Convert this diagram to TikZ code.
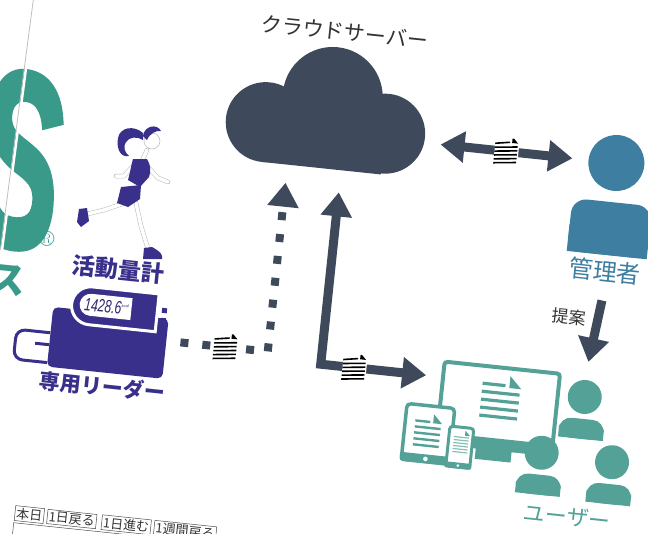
\documentclass[tikz,border=0pt]{standalone}
\usepackage{fontspec}
\usepackage{graphicx}
\newfontfamily\jp{Noto Sans CJK JP}
\newfontfamily\logofont{Liberation Sans}[BoldItalicFeatures={FakeBold=3}]
\usetikzlibrary{arrows.meta,positioning,shapes.misc}

\definecolor{slate}{HTML}{3E4A5B}
\definecolor{readerpurple}{HTML}{39308B}
\definecolor{adminblue}{HTML}{3D7EA1}
\definecolor{userteal}{HTML}{54A297}
\definecolor{logoteal}{HTML}{3A9A8A}

% one user: head and shoulders
\tikzset{
  pics/person/.style={code={
    \node[circle, fill=#1, minimum size=34pt, inner sep=0pt] (-head) at (0,0) {};
    \fill[#1, rounded corners=12pt] (-22.5,22) rectangle (22.5,42);
    \fill[#1] (-22.5,32) rectangle (22.5,42);
  }},
}

\begin{document}
\begin{tikzpicture}[
  x=1pt, y=-1pt,
  font=\jp,
  >={Triangle[length=24pt,width=30pt]},
  bigarrow/.style={draw=slate, line width=9pt},
  dotarrow/.style={draw=slate, line width=8pt, dash pattern=on 8pt off 14pt},
  docicon/.style={fill=white, solid, inner sep=0pt, minimum width=24pt, minimum height=27pt,
    path picture={
      \draw[-, black, line width=1.6pt] ([xshift=1pt,yshift=-6.5pt]path picture bounding box.north west)
        -- ([xshift=-9pt,yshift=-6.5pt]path picture bounding box.north east);
      \foreach \k in {1,...,5}
        \draw[-, black, line width=1.6pt] ([xshift=1pt,yshift=-6.5pt-3.9pt*\k]path picture bounding box.north west)
          -- ([xshift=-1pt,yshift=-6.5pt-3.9pt*\k]path picture bounding box.north east);
      \fill[black] ([xshift=-7pt,yshift=-1pt]path picture bounding box.north east) -- ++(0,6) -- ++(6,0) -- cycle;
    }},
  lbl/.style={inner sep=0pt},
  screenbox/.style={draw=userteal, fill=white, rounded corners=3pt, inner sep=0pt},
  btn/.style={draw=black!70, line width=.5pt, inner sep=1.5pt, text=black!80,
              font=\jp\fontsize{13}{13}\selectfont},
  limb/.style={draw=black!28, double=white, double distance=3.5pt, line width=.5pt,
               line cap=round, line join=round},
]
\useasboundingbox (0,0) rectangle (648,533);
\clip (0,0) rectangle (648,533);
\fill[white] (0,0) rectangle (648,533);

% logo at the left margin, cut by the page
\node[text=logoteal, font=\logofont\bfseries\itshape\fontsize{250}{250}\selectfont,
      xscale=.5, rotate=-6, inner sep=0pt] (logo) at (19,160) {S};
\node[text=logoteal, font=\fontsize{22}{22}\selectfont, rotate=-6, inner sep=0pt] (reg) at (47,239) {\textregistered};
\node[text=logoteal, font=\jp\bfseries\fontsize{38}{38}\selectfont, rotate=-6, inner sep=0pt] (kana) at (7,280) {ス};
\draw[white, line width=2.5pt] (35,0) -- (2,250);
\draw[black!25, line width=.8pt] (33.3,0) -- (.3,250);

% runner
\draw[limb] (122,204) -- (104,210) -- (87,214);
\draw[limb] (136,203) -- (141,226) -- (148,249);
\draw[limb] (147,166) -- (158,178) -- (168,182);
\draw[limb] (133,166) -- (124,176) -- (116,176);
\draw[limb] (147,150) -- (143,159);
\filldraw[draw=black!28, fill=white, line width=.5pt] (152,141) circle (8);
\fill[readerpurple] (143,136) .. controls (144,126) and (157,123) .. (161,131)
  .. controls (157,130) and (150,133) .. (147,140) -- cycle;
\fill[readerpurple] (143,133) .. controls (134,125) and (120,127) .. (118,138)
  .. controls (116,149) and (121,158) .. (129,156)
  .. controls (124,152) and (123,146) .. (126,142)
  .. controls (129,137) and (137,136) .. (143,140) -- cycle;
\fill[readerpurple] (133,159) -- (147,159) .. controls (151,165) and (151,172) .. (149,177)
  -- (140,187) -- (128,180) .. controls (130,173) and (131,166) .. (133,159) -- cycle;
\fill[readerpurple] (121,187) -- (141,185) -- (140,199) -- (128,207) -- (117,203) -- cycle;
\fill[readerpurple] (79,209) -- (87,208) -- (89,221) -- (81,227) -- (77,222) -- cycle;
\fill[readerpurple] (144,248) -- (152,247) .. controls (157,250) and (161,252) .. (162,256)
  -- (162,259) -- (143,259) -- cycle;

\begin{scope}[rotate around={-6:(324,266)}, transform shape]

% cloud server
\node[lbl, font=\jp\fontsize{21}{21}\selectfont, text=black!80] (title) at (320,31) {クラウドサーバー};
\node[minimum width=200pt, minimum height=122pt, inner sep=0pt] (cloud) at (311,108) {};
\fill[slate] ([shift={(-60,21)}]cloud.center) circle (40pt);
\fill[slate] ([shift={(60,20)}]cloud.center) circle (40pt);
\fill[slate] ([shift={(4,-11)}]cloud.center) circle (50pt);
\fill[slate] ([shift={(-60,7)}]cloud.center) rectangle ([shift={(60,61)}]cloud.center);

% administrator
\node[circle, fill=adminblue, minimum size=56pt, inner sep=0pt] (admhead) at (604,133) {};
\node[fill=adminblue, rounded corners=15pt, minimum width=80pt, minimum height=53pt,
      inner sep=0pt, below=11pt of admhead] (admbody) {};
\fill[adminblue] (admbody.west) rectangle (admbody.south east);
\node[lbl, font=\jp\fontsize{24}{24}\selectfont, text=adminblue, below=5pt of admbody] (admlabel) {管理者};

% activity meter on its reader
\node[lbl, font=\jp\bfseries\fontsize{23}{23}\selectfont, text=readerpurple] (meterlabel) at (120,291) {活動量計};
\node[fill=readerpurple, rounded corners=5pt, minimum width=116pt, minimum height=60pt, inner sep=0pt] (reader) at (117,365) {};
\draw[readerpurple, line width=3pt, rounded corners=9pt] ([yshift=4pt]reader.west) -- ++(-34,0) -- ++(0,30) -- ++(34,0);
\draw[readerpurple, line width=3pt] ([yshift=-8pt]reader.west) -- ++(-14,0);
\node[rounded rectangle, rounded rectangle east arc=none, fill=readerpurple, draw=white, line width=3pt,
      minimum width=86pt, minimum height=38pt, inner sep=0pt] (meter) at (120,330) {};
\node[rounded rectangle, rounded rectangle east arc=none, fill=white, minimum width=52pt, minimum height=22pt,
      inner sep=0pt, font=\logofont\itshape\fontsize{18}{18}\selectfont, text=readerpurple!80!black] (lcd) at (112,329)
      {\scalebox{.68}[1]{1428.6}\raisebox{7pt}{\fontsize{4}{4}\selectfont kcal}};
\node[fill=readerpurple, minimum size=5pt, inner sep=0pt] (pinA) at (170,327) {};
\node[fill=readerpurple, minimum size=5pt, inner sep=0pt] (pinB) at (170,337) {};
\node[lbl, font=\jp\bfseries\fontsize{21}{21}\selectfont, text=readerpurple] (readerlabel) at (116,409) {専用リーダー};

% upload from the reader
\draw[dotarrow, ->] ([xshift=14pt,yshift=8pt]reader.east) -| node[pos=.26, docicon] (docupload) {}
  ([xshift=-34pt,yshift=-18pt]cloud.south);

% devices
\node[screenbox, line width=4pt, minimum width=116pt, minimum height=81pt] (monitor) at (512,389) {};
\fill[userteal, rounded corners=2pt] ([yshift=12pt]monitor.south west) rectangle (monitor.south east);
\fill[userteal] (494,430) rectangle (530,442);
\draw[userteal, line width=3.2pt] (494,366) -- (517,366);
\foreach \k in {1,...,4}
  \draw[userteal, line width=3.2pt] (494,366+8*\k) -- (532,366+8*\k);
\fill[userteal] (521,356) -- (521,368) -- (533,368) -- cycle;

\node[screenbox, line width=3.5pt, rounded corners=4pt, minimum width=48pt, minimum height=56pt] (tablet) at (445,422) {};
\fill[userteal, rounded corners=3pt] ([yshift=9pt]tablet.south west) rectangle (tablet.south east);
\fill[white] ([yshift=4.5pt]tablet.south) circle (2.3pt);
\draw[userteal, line width=2.4pt] (431,410) -- (446,410);
\foreach \k in {1,...,4}
  \draw[userteal, line width=2.4pt] (431,410+6*\k) -- (457,410+6*\k);
\fill[userteal] (449,402) -- (449,411) -- (458,411) -- cycle;

\node[screenbox, line width=3pt, minimum width=24pt, minimum height=40pt] (phone) at (478,432) {};
\fill[userteal, rounded corners=2pt] ([yshift=6pt]phone.south west) rectangle (phone.south east);
\fill[white] ([yshift=3pt]phone.south) circle (1.5pt);
\foreach \k in {0,...,5}
  \draw[userteal!70, line width=1.2pt] (471,422+3*\k) -- (486,422+3*\k);
\fill[userteal] (482,415) -- (482,420) -- (487,420) -- cycle;

% delivery to the devices
\draw[bigarrow, <->] ([xshift=20pt,yshift=-22pt]cloud.south) |- node[pos=.66, docicon] (docdeliver) {}
  ([xshift=-15pt,yshift=25pt]monitor.west);

% sync with the administrator
\draw[bigarrow, <->] ([xshift=16pt,yshift=-25pt]cloud.east) -- node[docicon] (docsync) {}
  ([xshift=-16pt]admhead.west);

% users
\pic (u1) at (597,369) {person=userteal};
\pic (u2) at (560,429) {person=userteal};
\pic (u3) at (631,431) {person=userteal};
\node[lbl, font=\jp\fontsize{22}{22}\selectfont, text=userteal] (userlabel) at (592,490) {ユーザー};

\draw[bigarrow, ->] ([yshift=-18pt]admlabel.south) -- node[pos=.32, left=7pt, lbl,
  font=\jp\fontsize{17}{17}\selectfont, text=black!80] (teian) {提案} ([yshift=18pt]u1-head.north);

% web calendar buttons at the page foot
\node[btn] (today) at (57,544) {本日};
\node[btn, right=3pt of today] (dayback) {1日戻る};
\node[btn, right=5pt of dayback] (dayfwd) {1日進む};
\node[btn, right=3pt of dayfwd] (weekback) {1週間戻る};
\draw[black!70, line width=.5pt] ([yshift=-2pt]today.south west) rectangle (660,640);

\end{scope}
\end{tikzpicture}
\end{document}
